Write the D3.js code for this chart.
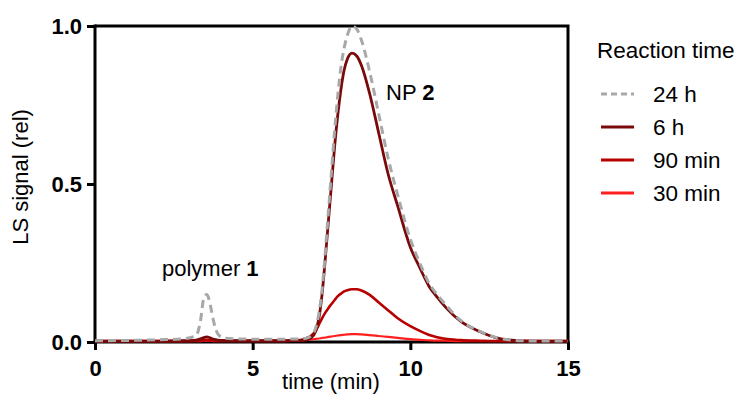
<!DOCTYPE html>
<html><head><meta charset="utf-8">
<script src="https://cdn.jsdelivr.net/npm/d3@7"></script>
<style>body{margin:0;background:#fff}svg{display:block}text{font-family:"Liberation Sans",Arial,sans-serif}</style>
</head><body>
<svg id="c" width="739" height="396"></svg>
<script>
const times = [0,1,2,2.8,3.2,3.35,3.45,3.55,3.65,3.75,3.9,4.1,4.5,5,6,6.5,6.7,6.85,7.0,7.1,7.2,7.3,7.4,7.5,7.6,7.7,7.8,7.9,8.0,8.15,8.3,8.45,8.7,9.0,9.3,9.6,10.0,10.3,10.6,10.85,11.1,11.6,12.2,12.7,13.2,14,15];
const s24h = [0.004,0.005,0.007,0.01,0.02,0.07,0.14,0.15,0.12,0.07,0.025,0.012,0.01,0.009,0.009,0.01,0.012,0.02,0.045,0.09,0.165,0.28,0.41,0.54,0.67,0.78,0.87,0.93,0.97,1.0,0.99,0.955,0.86,0.72,0.58,0.465,0.325,0.25,0.185,0.15,0.12,0.068,0.034,0.015,0.006,0.003,0.003];
const s6h = [0.003,0.003,0.003,0.004,0.006,0.01,0.014,0.016,0.013,0.009,0.006,0.005,0.004,0.004,0.004,0.005,0.007,0.013,0.035,0.075,0.15,0.26,0.38,0.50,0.62,0.72,0.80,0.86,0.895,0.914,0.905,0.875,0.79,0.66,0.53,0.43,0.30,0.235,0.175,0.142,0.112,0.065,0.033,0.014,0.006,0.003,0.003];
const s90 = [0.003,0.003,0.003,0.003,0.004,0.005,0.006,0.007,0.006,0.005,0.004,0.004,0.004,0.004,0.004,0.006,0.012,0.02,0.035,0.055,0.075,0.092,0.107,0.12,0.133,0.145,0.153,0.16,0.164,0.167,0.167,0.163,0.15,0.125,0.1,0.075,0.05,0.035,0.022,0.015,0.01,0.006,0.004,0.003,0.003,0.003,0.003];
const s30 = [0.003,0.003,0.003,0.003,0.003,0.003,0.004,0.004,0.004,0.003,0.003,0.003,0.003,0.003,0.003,0.004,0.006,0.008,0.01,0.011,0.013,0.014,0.016,0.0175,0.019,0.0205,0.022,0.023,0.024,0.025,0.025,0.024,0.022,0.019,0.016,0.013,0.009,0.007,0.005,0.0045,0.004,0.003,0.003,0.003,0.003,0.003,0.003];
const seriesNames = ["24 h","6 h","90 min","30 min"];
const xTicks = [0,5,10,15];
const yTicks = [0,0.5,1.0];

const svg = d3.select("#c");
const x = d3.scaleLinear().domain([0,15]).range([95,568]);
const y = d3.scaleLinear().domain([0,1]).range([342,26]);

svg.append("path").attr("d",`M${x(0)},${y(1)}H${x(15)}V${y(0)}`).attr("fill","none").attr("stroke","#000").attr("stroke-width",3);

const ya = svg.append("g").attr("transform",`translate(${x(0)},0)`)
  .call(d3.axisLeft(y).tickValues(yTicks).tickFormat(d3.format(".1f")).tickSize(8).tickSizeOuter(0).tickPadding(5));
const xa = svg.append("g").attr("transform",`translate(0,${y(0)})`)
  .call(d3.axisBottom(x).tickValues(xTicks).tickSize(8).tickSizeOuter(0).tickPadding(10));
[ya,xa].forEach(g=>{
  g.select(".domain").attr("stroke-width",3).attr("stroke","#000");
  g.selectAll(".tick line").attr("stroke-width",3).attr("stroke","#000");
  g.selectAll(".tick text").attr("font-size",22).attr("font-weight","bold").attr("fill","#000").style("font-family","'Liberation Sans',Arial,sans-serif");
});
ya.select(".domain").attr("d",`M0,${y(1)-1.5}V${y(0)+1.5}`);
xa.select(".domain").attr("d",`M${x(0)-1.5},0H${x(15)+1.5}`);

svg.append("text").attr("transform","translate(28,177) rotate(-90)").attr("text-anchor","middle").attr("font-size",22).text("LS signal (rel)");
svg.append("text").attr("x",331).attr("y",389).attr("text-anchor","middle").attr("font-size",22).text("time (min)");

const line = d3.line().x((d,i)=>x(times[i])).y(d=>y(d)).curve(d3.curveMonotoneX);
const styles = [
  {data:s30, color:"#ff1f1f", w:2.2, dash:null},
  {data:s90, color:"#b80000", w:2.6, dash:null},
  {data:s6h, color:"#7a0a0a", w:2.8, dash:null},
  {data:s24h, color:"#a8a8a8", w:3, dash:"8,5"}
];
styles.forEach(s=>{
  svg.append("path").datum(s.data).attr("d",line).attr("fill","none")
    .attr("stroke",s.color).attr("stroke-width",s.w).attr("stroke-dasharray",s.dash);
});

const p = svg.append("text").attr("x",162).attr("y",276).attr("font-size",22);
p.append("tspan").text("polymer ");
p.append("tspan").attr("font-weight","bold").text("1");
const n = svg.append("text").attr("x",386).attr("y",100).attr("font-size",22);
n.append("tspan").text("NP ");
n.append("tspan").attr("font-weight","bold").text("2");

svg.append("text").attr("x",597).attr("y",58).attr("font-size",22.5).text("Reaction time");
const legStyles = [styles[3],styles[2],styles[1],styles[0]];
const legY = [94,127,160,193];
seriesNames.forEach((name,i)=>{
  const s = legStyles[i];
  svg.append("line").attr("x1",601).attr("x2",634).attr("y1",legY[i]).attr("y2",legY[i])
    .attr("stroke",s.color).attr("stroke-width",3).attr("stroke-dasharray",s.dash?"6,4":null);
  svg.append("text").attr("x",653).attr("y",legY[i]+8).attr("font-size",22.5).text(name);
});
</script>
</body></html>
